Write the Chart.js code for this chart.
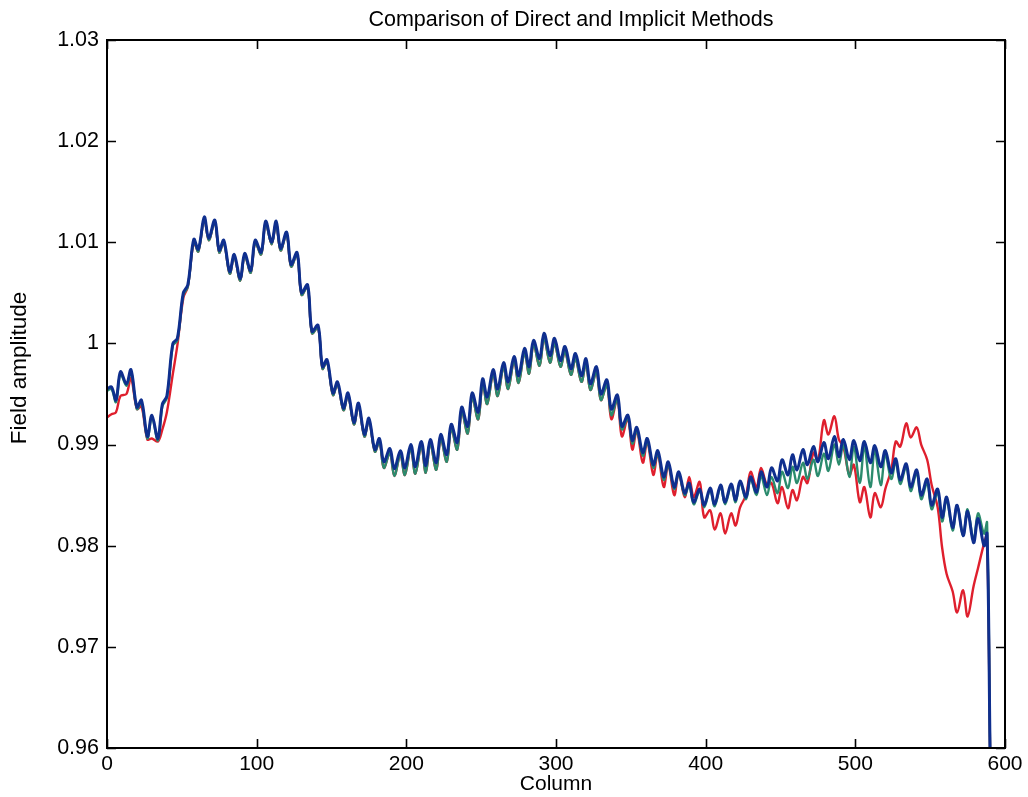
<!DOCTYPE html>
<html>
<head>
<meta charset="utf-8">
<script src="https://cdn.jsdelivr.net/npm/chart.js@4/dist/chart.umd.min.js"></script>
<style>
html,body{margin:0;padding:0;background:#fff;}
#wrap{width:1028px;height:797px;position:relative;}
</style>
</head>
<body>
<div id="wrap"><canvas id="c" width="1028" height="797"></canvas></div>
<script>
// ---- data ----
const columns = [
  0,3,6,9,13,16,20,23,27,30,
  34,37,40,44,47,51,54,58,61,65,
  68,72,75,78,82,85,89,92,96,99,
  103,106,110,113,116,120,123,127,130,134,
  137,141,144,147,151,154,158,161,165,168,
  172,175,179,182,185,189,192,196,199,203,
  206,210,213,216,220,223,227,230,234,237,
  241,244,248,251,254,258,261,265,268,272,
  275,279,282,285,289,292,296,299,303,306,
  310,313,317,320,323,327,330,334,337,341,
  344,348,351,354,358,361,365,368,372,375,
  379,382,386,389,392,396,399,403,406,410,
  413,417,420,423,427,430,434,437,441,444,
  448,451,455,458,461,465,468,472,475,479,
  482,486,489,492,496,499,503,506,510,513,
  517,520,524,527,530,534,537,541,544,548,
  551,555,558,561,565,568,572,575,579,582,
  586,588,590
];

const blueSeries = [
  0.9955,0.9957,0.9944,0.9972,0.9960,0.9974,0.9937,0.9944,0.9908,0.9929,
  0.9906,0.9940,0.9948,1.0000,1.0005,1.0050,1.0058,1.0103,1.0093,1.0125,
  1.0104,1.0122,1.0092,1.0102,1.0071,1.0088,1.0064,1.0089,1.0072,1.0102,
  1.0090,1.0121,1.0100,1.0121,1.0094,1.0110,1.0078,1.0090,1.0050,1.0058,
  1.0012,1.0018,0.9977,0.9984,0.9951,0.9962,0.9936,0.9951,0.9922,0.9941,
  0.9910,0.9926,0.9895,0.9906,0.9883,0.9896,0.9876,0.9894,0.9877,0.9900,
  0.9878,0.9903,0.9879,0.9905,0.9882,0.9910,0.9890,0.9920,0.9902,0.9937,
  0.9918,0.9951,0.9932,0.9965,0.9947,0.9974,0.9955,0.9981,0.9962,0.9987,
  0.9968,0.9995,0.9977,1.0003,0.9985,1.0010,0.9988,1.0005,0.9983,0.9997,
  0.9975,0.9990,0.9968,0.9985,0.9960,0.9977,0.9950,0.9964,0.9935,0.9949,
  0.9918,0.9929,0.9904,0.9917,0.9892,0.9906,0.9880,0.9894,0.9868,0.9883,
  0.9858,0.9873,0.9852,0.9862,0.9843,0.9856,0.9840,0.9857,0.9841,0.9860,
  0.9843,0.9861,0.9845,0.9864,0.9848,0.9868,0.9853,0.9873,0.9858,0.9877,
  0.9864,0.9885,0.9870,0.9890,0.9875,0.9895,0.9880,0.9898,0.9883,0.9902,
  0.9886,0.9908,0.9888,0.9905,0.9885,0.9904,0.9884,0.9903,0.9882,0.9899,
  0.9878,0.9894,0.9872,0.9886,0.9865,0.9881,0.9858,0.9875,0.9850,0.9866,
  0.9840,0.9856,0.9828,0.9848,0.9818,0.9840,0.9810,0.9834,0.9803,0.9827,
  0.9800,0.9812,0.9600
];

const greenSeries = [
  0.9953,0.9955,0.9942,0.9970,0.9958,0.9972,0.9935,0.9942,0.9906,0.9927,
  0.9904,0.9938,0.9946,0.9998,1.0003,1.0048,1.0056,1.0101,1.0091,1.0123,
  1.0102,1.0120,1.0090,1.0100,1.0069,1.0086,1.0062,1.0087,1.0070,1.0100,
  1.0088,1.0119,1.0098,1.0119,1.0092,1.0108,1.0076,1.0088,1.0048,1.0056,
  1.0010,1.0016,0.9975,0.9982,0.9949,0.9960,0.9934,0.9949,0.9920,0.9939,
  0.9908,0.9924,0.9893,0.9903,0.9877,0.9892,0.9869,0.9890,0.9870,0.9896,
  0.9871,0.9899,0.9872,0.9901,0.9875,0.9906,0.9883,0.9916,0.9895,0.9933,
  0.9911,0.9947,0.9925,0.9961,0.9940,0.9970,0.9948,0.9977,0.9955,0.9983,
  0.9961,0.9991,0.9970,0.9999,0.9978,1.0005,0.9981,1.0000,0.9977,0.9992,
  0.9969,0.9985,0.9962,0.9980,0.9954,0.9972,0.9944,0.9959,0.9929,0.9945,
  0.9915,0.9926,0.9901,0.9914,0.9889,0.9903,0.9877,0.9891,0.9865,0.9880,
  0.9856,0.9871,0.9850,0.9860,0.9841,0.9854,0.9838,0.9855,0.9839,0.9858,
  0.9841,0.9859,0.9843,0.9862,0.9846,0.9866,0.9850,0.9869,0.9850,0.9868,
  0.9852,0.9873,0.9857,0.9878,0.9862,0.9882,0.9866,0.9885,0.9869,0.9891,
  0.9874,0.9900,0.9880,0.9900,0.9868,0.9898,0.9862,0.9898,0.9858,0.9894,
  0.9860,0.9890,0.9866,0.9883,0.9861,0.9878,0.9854,0.9872,0.9846,0.9862,
  0.9836,0.9853,0.9824,0.9846,0.9815,0.9840,0.9810,0.9836,0.9806,0.9832,
  0.9812,0.9823,0.9600
];

const redSeries = [
  0.9927,0.9930,0.9932,0.9948,0.9950,0.9966,0.9935,0.9938,0.9905,0.9906,
  0.9903,0.9915,0.9932,0.9970,0.9998,1.0045,1.0056,1.0100,1.0091,1.0123,
  1.0102,1.0120,1.0090,1.0100,1.0069,1.0086,1.0062,1.0087,1.0070,1.0100,
  1.0088,1.0119,1.0098,1.0119,1.0092,1.0108,1.0076,1.0088,1.0048,1.0056,
  1.0010,1.0016,0.9975,0.9982,0.9949,0.9960,0.9934,0.9949,0.9920,0.9939,
  0.9908,0.9924,0.9893,0.9903,0.9877,0.9892,0.9869,0.9890,0.9870,0.9896,
  0.9871,0.9899,0.9872,0.9901,0.9875,0.9906,0.9883,0.9916,0.9895,0.9933,
  0.9911,0.9947,0.9925,0.9961,0.9940,0.9970,0.9948,0.9977,0.9955,0.9983,
  0.9961,0.9991,0.9970,0.9999,0.9978,1.0005,0.9981,1.0000,0.9977,0.9992,
  0.9969,0.9985,0.9962,0.9980,0.9954,0.9972,0.9944,0.9959,0.9925,0.9945,
  0.9908,0.9926,0.9895,0.9914,0.9882,0.9903,0.9870,0.9891,0.9858,0.9880,
  0.9850,0.9872,0.9848,0.9868,0.9848,0.9863,0.9828,0.9835,0.9816,0.9832,
  0.9812,0.9832,0.9820,0.9838,0.9850,0.9873,0.9858,0.9877,0.9860,0.9862,
  0.9842,0.9858,0.9837,0.9855,0.9845,0.9868,0.9862,0.9892,0.9884,0.9924,
  0.9910,0.9928,0.9905,0.9898,0.9870,0.9880,0.9843,0.9858,0.9828,0.9852,
  0.9838,0.9856,0.9875,0.9903,0.9898,0.9921,0.9907,0.9917,0.9900,0.9885,
  0.9860,0.9838,0.9798,0.9772,0.9755,0.9734,0.9756,0.9730,0.9760,0.9778,
  0.9802,0.9810,0.9600
];

const xTickValues = [0, 100, 200, 300, 400, 500, 600];
const yTickValues = [0.96, 0.97, 0.98, 0.99, 1.00, 1.01, 1.02, 1.03];
const yTickLabels = ['0.96', '0.97', '0.98', '0.99', '1', '1.01', '1.02', '1.03'];
const chartTitle = 'Comparison of Direct and Implicit Methods';
const xTitle = 'Column';
const yTitle = 'Field amplitude';

// ---- chart ----
const FONT = "'Liberation Sans', Arial, Helvetica, sans-serif";
const toPoints = arr => columns.map((c, i) => ({x: c, y: arr[i]}));

const framePlugin = {
  id: 'frame',
  afterDatasetsDraw(chart) {
    const {ctx, chartArea: a, scales: {x, y}} = chart;
    ctx.save();
    ctx.strokeStyle = '#000';
    ctx.lineWidth = 2;
    ctx.strokeRect(a.left, a.top, a.right - a.left, a.bottom - a.top);
    ctx.lineWidth = 1.6;
    const L = 9;
    ctx.beginPath();
    x.ticks.forEach(t => {
      const p = Math.round(x.getPixelForValue(t.value)) + 0.5;
      ctx.moveTo(p, a.bottom); ctx.lineTo(p, a.bottom - L);
      ctx.moveTo(p, a.top); ctx.lineTo(p, a.top + L);
    });
    y.ticks.forEach(t => {
      const p = Math.round(y.getPixelForValue(t.value)) + 0.5;
      ctx.moveTo(a.left, p); ctx.lineTo(a.left + L, p);
      ctx.moveTo(a.right, p); ctx.lineTo(a.right - L, p);
    });
    ctx.stroke();
    ctx.restore();
  }
};

const textPlugin = {
  id: 'plotTexts',
  afterDraw(chart) {
    const {ctx} = chart;
    ctx.save();
    ctx.fillStyle = '#000';
    ctx.textAlign = 'center';
    ctx.textBaseline = 'middle';
    ctx.font = "21.5px " + FONT;
    ctx.fillText(chartTitle, 571, 20);
    ctx.translate(20, 368);
    ctx.rotate(-Math.PI / 2);
    ctx.font = "22.5px " + FONT;
    ctx.fillText(yTitle, 0, 0);
    ctx.restore();
  }
};

new Chart(document.getElementById('c'), {
  type: 'line',
  data: {
    datasets: [
      {label: 'Direct', data: toPoints(redSeries), borderColor: '#df1f2d', borderWidth: 2.4, order: 3},
      {label: 'Implicit 1', data: toPoints(greenSeries), borderColor: '#2b8b6d', borderWidth: 2.4, order: 2},
      {label: 'Implicit 2', data: toPoints(blueSeries), borderColor: '#0f2f8e', borderWidth: 3, order: 1}
    ]
  },
  options: {
    responsive: false,
    animation: false,
    devicePixelRatio: 1,
    layout: {padding: {top: 40, right: 23, left: 0, bottom: 0}},
    elements: {
      point: {radius: 0, hoverRadius: 0},
      line: {tension: 0.35, fill: false, borderJoinStyle: 'round', borderCapStyle: 'round'}
    },
    plugins: {legend: {display: false}, tooltip: {enabled: false}, title: {display: false}},
    scales: {
      x: {
        type: 'linear', min: 0, max: 600,
        afterBuildTicks: s => { s.ticks = xTickValues.map(v => ({value: v})); },
        afterFit: s => { s.height = 49; },
        grid: {display: false, drawTicks: false},
        border: {display: false},
        ticks: {color: '#000', font: {family: FONT, size: 21}, padding: 4, maxRotation: 0, autoSkip: false,
                callback: v => String(v)},
        title: {display: true, text: xTitle, color: '#000', font: {family: FONT, size: 21}, padding: {top: 0, bottom: 0}}
      },
      y: {
        type: 'linear', min: 0.96, max: 1.03,
        afterBuildTicks: s => { s.ticks = yTickValues.map(v => ({value: v})); },
        afterFit: s => { s.width = 107; },
        grid: {display: false, drawTicks: false},
        border: {display: false},
        ticks: {color: '#000', font: {family: FONT, size: 21.5}, padding: 8, autoSkip: false,
                callback: (v) => { const i = yTickValues.findIndex(t => Math.abs(t - v) < 1e-6); return i >= 0 ? yTickLabels[i] : ''; }},
        title: {display: false}
      }
    }
  },
  plugins: [framePlugin, textPlugin]
});
</script>
</body>
</html>
